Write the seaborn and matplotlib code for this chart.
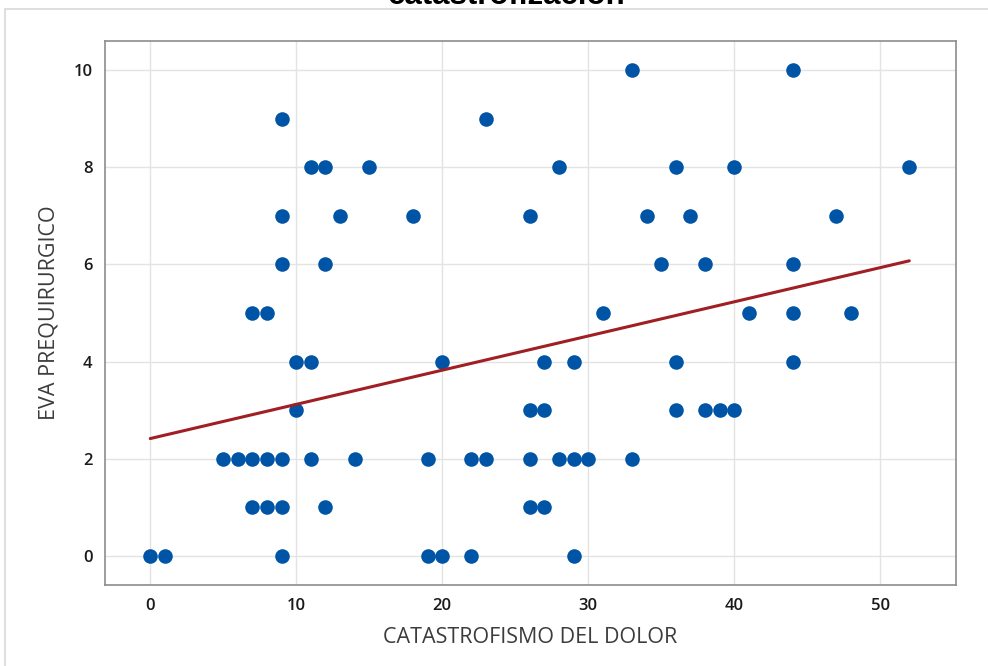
import matplotlib
matplotlib.use("Agg")
import matplotlib.pyplot as plt
import seaborn as sns
import pandas as pd
from matplotlib.patches import Rectangle

# catastrophizing score (x) and preoperative VAS (y)
catastrofismo = [
    33, 44,
    9, 23,
    11, 12, 15, 28, 36, 40, 52,
    9, 13, 18, 26, 34, 37, 47,
    9, 12, 35, 38, 44,
    7, 8, 31, 41, 44, 48,
    10, 11, 20, 27, 29, 36, 44,
    10, 26, 27, 36, 38, 39, 40,
    5, 6, 7, 8, 9, 11, 14, 19, 22, 23, 26, 28, 29, 30, 33,
    7, 8, 9, 12, 26, 27,
    0, 1, 9, 19, 20, 22, 29,
]
eva = (
    [10] * 2 + [9] * 2 + [8] * 7 + [7] * 7 + [6] * 5 + [5] * 6
    + [4] * 7 + [3] * 7 + [2] * 15 + [1] * 6 + [0] * 7
)
x_ticks = [0, 10, 20, 30, 40, 50]
y_ticks = [0, 2, 4, 6, 8, 10]

df = pd.DataFrame({"CATASTROFISMO DEL DOLOR": catastrofismo, "EVA PREQUIRURGICO": eva})

sns.set_style("white")
plt.rcParams["font.family"] = ["Open Sans", "DejaVu Sans"]

fig = plt.figure(figsize=(9.88, 6.66), dpi=100)
ax = fig.add_axes([105 / 988, 1 - 585 / 666, (956 - 105) / 988, (585 - 41) / 666])

sns.regplot(
    data=df, x="CATASTROFISMO DEL DOLOR", y="EVA PREQUIRURGICO", ax=ax, ci=None,
    scatter_kws={"s": 110, "color": "#0054A6", "alpha": 1, "linewidths": 0, "zorder": 3},
    line_kws={"color": "#A01F24", "lw": 2.2, "zorder": 4},
)

ax.set_xlim(-3.1, 55.2)
ax.set_ylim(-0.6, 10.6)
ax.set_xticks(x_ticks)
ax.set_yticks(y_ticks)
ax.grid(True, color="#E3E3E3", lw=1)
ax.set_axisbelow(True)
for s in ax.spines.values():
    s.set_color("#8C8C8C")
    s.set_linewidth(1.2)
ax.tick_params(axis="both", direction="out", length=5, width=1, color="#8C8C8C",
               labelsize=12, labelcolor="#1A1A1A", pad=4)
for lab in ax.get_xticklabels() + ax.get_yticklabels():
    lab.set_fontweight("semibold")

ax.set_xlabel("CATASTROFISMO DEL DOLOR", fontsize=15.5, color="#3C3C3C", labelpad=10)
ax.set_ylabel("EVA PREQUIRURGICO", fontsize=15.5, color="#3C3C3C", labelpad=10)

# outer frame of the chart panel and the cropped title above it
fig.patches.append(Rectangle((5 / 988, -0.01), 1.0, 1 - 9 / 666 + 0.01,
                             transform=fig.transFigure, fill=False,
                             edgecolor="#D9D9D9", lw=1.2))
fig.text(507 / 988, 1 - 4 / 666, "catastrofización", ha="center", va="baseline",
         fontsize=22.5, fontweight="bold", color="black",
         family=["Liberation Sans", "DejaVu Sans"])

fig.savefig("out.png", dpi=100)
